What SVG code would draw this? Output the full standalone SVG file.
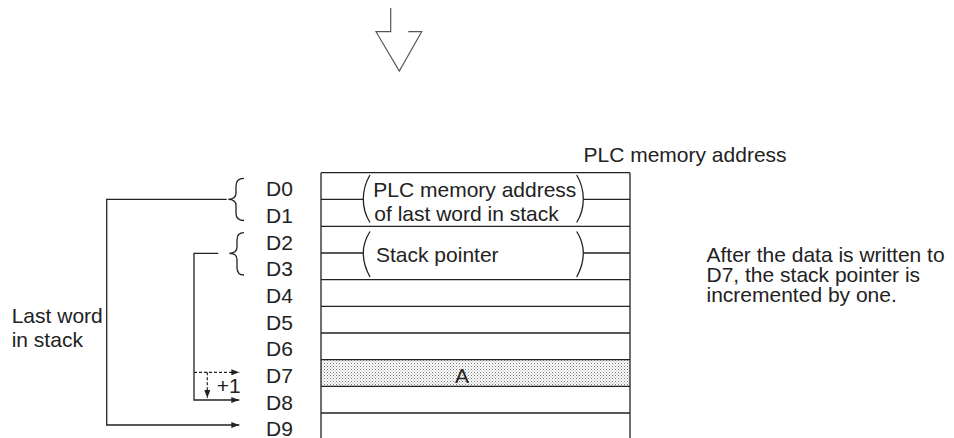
<svg xmlns="http://www.w3.org/2000/svg" width="954" height="438" viewBox="0 0 954 438">
<style>
  text { font-family: "Liberation Sans", Arial, Helvetica, sans-serif; font-size: 21px; fill: #222; }
  .ln { stroke: #222; stroke-width: 1.3; fill: none; }
  .dash { stroke: #222; stroke-width: 1.2; fill: none; stroke-dasharray: 3 2; }
  .big { stroke: #555; stroke-width: 1.2; fill: none; }
</style>
<defs>
  <marker id="ah" markerUnits="userSpaceOnUse" markerWidth="9" markerHeight="6" refX="8" refY="3" orient="auto">
    <path d="M0,0 L8,3 L0,6 z" fill="#222"/>
  </marker>
  <pattern id="dots" width="3" height="3" patternUnits="userSpaceOnUse">
    <rect width="3" height="3" fill="#fff"/>
    <rect x="0" y="0" width="1" height="1" fill="#777"/>
    <rect x="1.5" y="1.5" width="1" height="1" fill="#999"/>
  </pattern>
</defs>

<g id="down-arrow">
  <path class="big" d="M390.7,8 L390.7,31.7 L376,31.7 L399.3,71 L421.7,31.7 L408.3,31.7"/>
</g>

<g id="memory-table">
  <rect x="321" y="359.3" width="309" height="26.7" fill="url(#dots)"/>
  <path class="ln" d="M321,172.7 H630 M321,172.7 V438 M630,172.7 V438"/>
  <path class="ln" d="M321,199.3 H363.3 M583.3,199.3 H630"/>
  <path class="ln" d="M321,226.3 H630"/>
  <path class="ln" d="M321,253 H363.3 M583.3,253 H630"/>
  <path class="ln" d="M321,279.7 H630 M321,306.3 H630 M321,333 H630 M321,359.7 H630 M321,386.3 H630 M321,413 H630"/>
  <path class="ln" d="M370,175 Q363.3,186 363.3,199.3 Q363.3,212 370,222.5"/>
  <path class="ln" d="M576.7,175 Q583.3,186 583.3,199.3 Q583.3,212 576.7,222.5"/>
  <path class="ln" d="M370,231.5 Q363.3,242 363.3,253 Q363.3,265 370,277"/>
  <path class="ln" d="M576.7,231.5 Q583.3,242 583.3,253 Q583.3,265 576.7,277"/>
  <text x="373.3" y="196.7">PLC memory address</text>
  <text x="374.3" y="220.7">of last word in stack</text>
  <text x="376" y="261.7">Stack pointer</text>
  <text x="455" y="383" font-size="20">A</text>
</g>

<g id="address-labels">
  <text x="266" y="196.4">D0</text>
  <text x="266" y="223">D1</text>
  <text x="266" y="249.7">D2</text>
  <text x="266" y="276.4">D3</text>
  <text x="266" y="303">D4</text>
  <text x="266" y="329.7">D5</text>
  <text x="266" y="356.4">D6</text>
  <text x="266" y="383">D7</text>
  <text x="266" y="409.7">D8</text>
  <text x="266" y="435.5">D9</text>
</g>

<g id="braces">
  <path class="ln" d="M244,178.3 Q236,178.3 236,186 L236,193 Q236,199.3 228.3,199.3 Q236,199.3 236,205.5 L236,213 Q236,220.5 244,220.5"/>
  <path class="ln" d="M244,232.7 Q237,232.7 237,240 L237,247 Q237,253.3 229.3,253.3 Q237,253.3 237,259.5 L237,267.5 Q237,275 244,275"/>
</g>

<g id="connectors">
  <path class="ln" d="M226.7,199.3 H106.7 V425 H239.3" marker-end="url(#ah)"/>
  <path class="ln" d="M218.3,253.3 H194 V400 H239.3" marker-end="url(#ah)"/>
  <path class="dash" d="M194,372.3 H239.3" marker-end="url(#ah)"/>
  <path class="dash" d="M207.3,372.3 V398" marker-end="url(#ah)"/>
</g>

<g id="notes">
  <text x="11.7" y="323">Last word</text>
  <text x="11.7" y="346.7">in stack</text>
  <text x="216.7" y="393" font-size="16.5">+1</text>
  <text x="583.5" y="161.5">PLC memory address</text>
  <text x="706.5" y="261.7">After the data is written to</text>
  <text x="706.5" y="281.7">D7, the stack pointer is</text>
  <text x="706.5" y="301.7">incremented by one.</text>
</g>
</svg>
